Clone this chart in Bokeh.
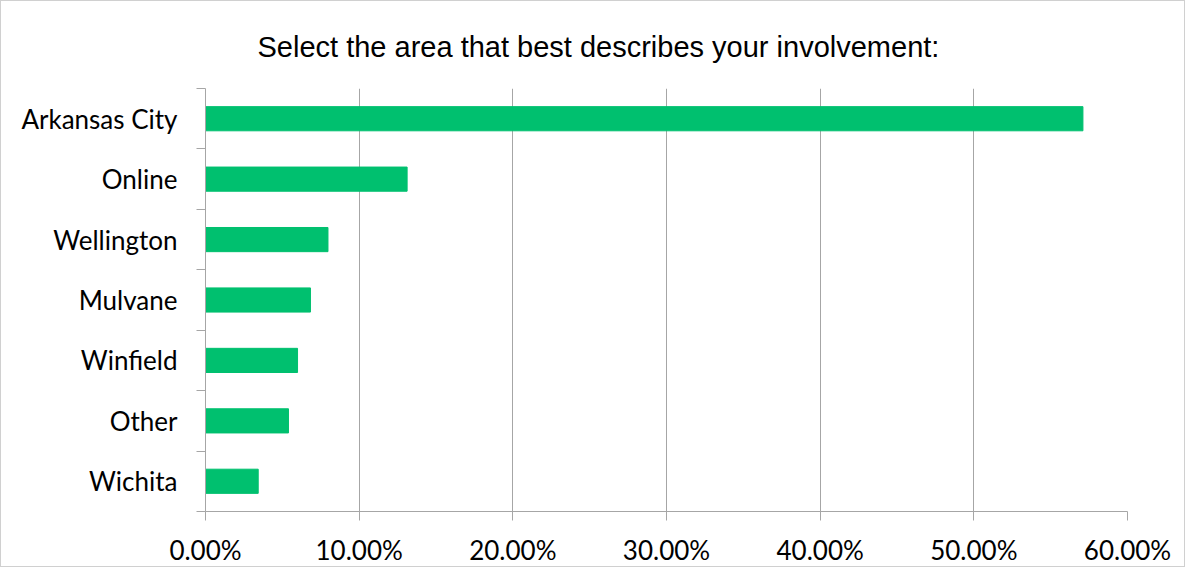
from bokeh.plotting import figure
from bokeh.models import FixedTicker, NumeralTickFormatter, Range1d, ColumnDataSource
from bokeh.embed import file_html
from bokeh.resources import INLINE

categories = ["Arkansas City", "Online", "Wellington", "Mulvane", "Winfield", "Other", "Wichita"]
values = [0.571, 0.1312, 0.0797, 0.0683, 0.0599, 0.0540, 0.0343]
x_ticks = [0.0, 0.1, 0.2, 0.3, 0.4, 0.5, 0.6]
title_text = "Select the area that best describes your involvement:"

n = len(categories)
# bottom-to-top positions (first category at top)
ypos = [n - 1 - i + 0.5 for i in range(n)]
src = ColumnDataSource(dict(y=ypos, v=values, c=categories))

p = figure(width=1185, height=567, output_backend="svg", toolbar_location=None,
           x_range=Range1d(0, 0.6), y_range=Range1d(0, n),
           min_border_left=204, min_border_right=59, min_border_top=87, min_border_bottom=57,
           title=title_text)
p.styles = {"border": "1px solid #d0d0d0"}
p.title.align = "left"
p.title.offset = 52
p.title.vertical_align = "top"
p.title.text_font = "Liberation Sans"
p.title.text_font_size = "29px"
p.title.text_font_style = "normal"
p.title.text_color = "#000000"
p.title.standoff = 47

p.hbar(y="y", right="v", left=0, height=0.4, source=src, color="#00C06F")

p.outline_line_color = None
p.background_fill_color = "white"

# x axis
p.xaxis.ticker = FixedTicker(ticks=x_ticks)
p.xaxis.formatter = NumeralTickFormatter(format="0.00%")
p.xaxis.axis_line_color = "#a6a6a6"
p.xaxis.major_tick_line_color = "#a6a6a6"
p.xaxis.major_tick_out = 9
p.xaxis.major_tick_in = 0
p.xaxis.minor_tick_line_color = None
p.xaxis.major_label_text_font = "Lato"
p.xaxis.major_label_text_font_size = "26px"
p.xaxis.major_label_text_color = "#000000"
p.xaxis.major_label_standoff = 13

# y axis
p.yaxis.ticker = FixedTicker(ticks=ypos, minor_ticks=list(range(n + 1)))
p.yaxis.major_label_overrides = {y: c for y, c in zip(ypos, categories)}
p.yaxis.axis_line_color = "#a6a6a6"
p.yaxis.major_tick_line_color = None
p.yaxis.major_tick_out = 0
p.yaxis.major_tick_in = 0
p.yaxis.minor_tick_line_color = "#a6a6a6"
p.yaxis.minor_tick_out = 9
p.yaxis.minor_tick_in = 0
p.yaxis.major_label_text_font = "Lato"
p.yaxis.major_label_text_font_size = "26px"
p.yaxis.major_label_text_color = "#000000"
p.yaxis.major_label_standoff = 19

p.xgrid.ticker = FixedTicker(ticks=x_ticks)
p.xgrid.grid_line_color = "#a6a6a6"
p.ygrid.grid_line_color = None

open("out.html", "w").write(file_html(p, INLINE))
